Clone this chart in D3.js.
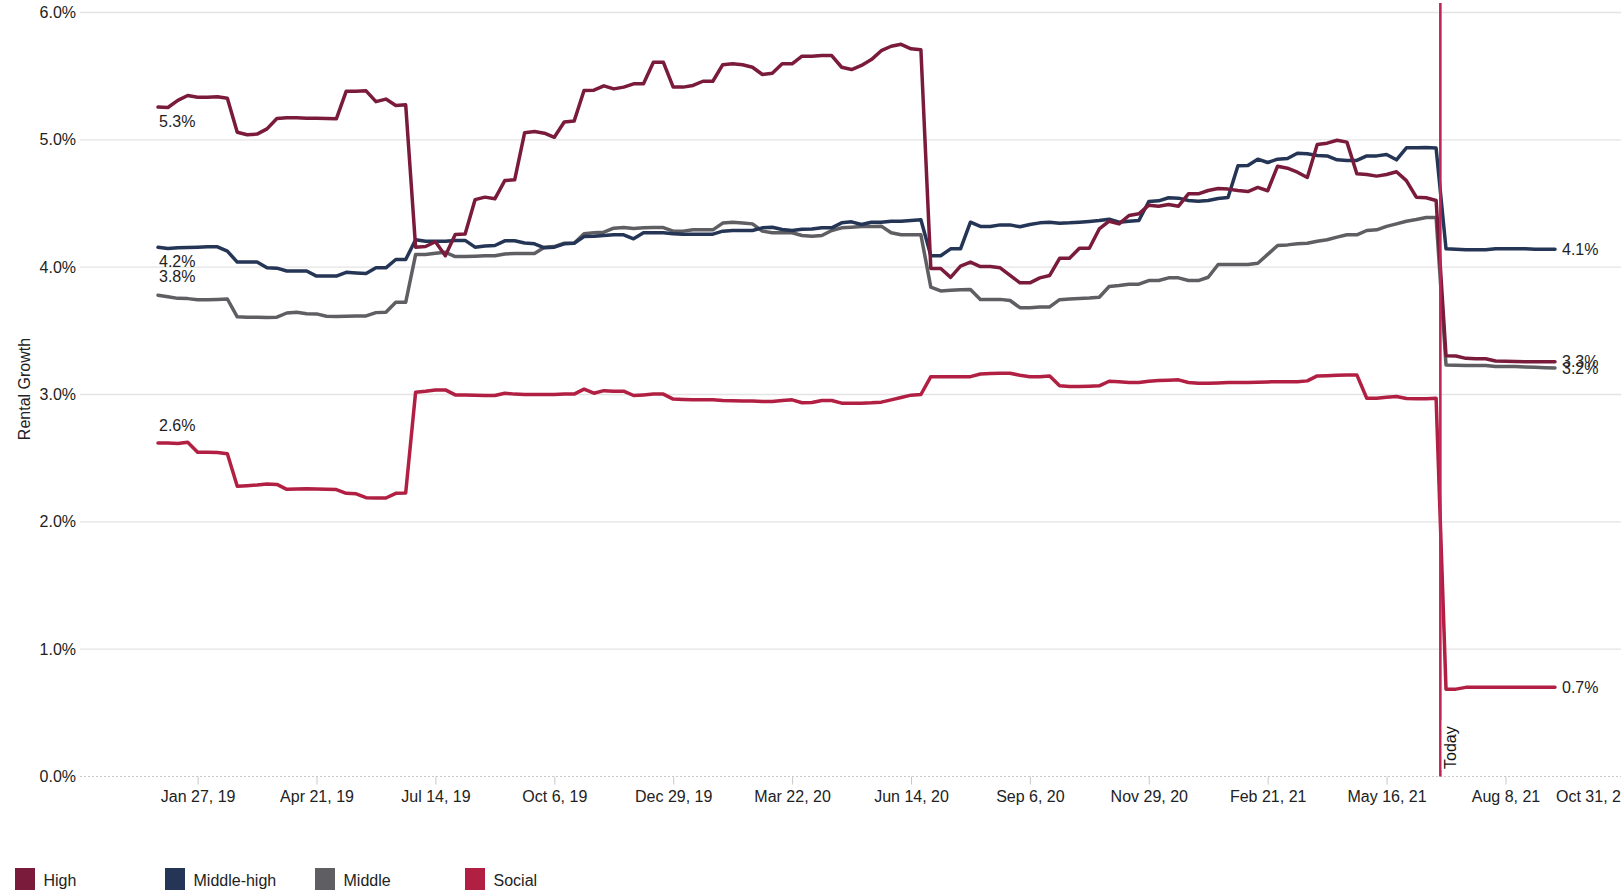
<!DOCTYPE html>
<html>
<head>
<meta charset="utf-8">
<script src="https://cdn.jsdelivr.net/npm/d3@7"></script>
<style>
  html, body { margin: 0; padding: 0; background: #fff; overflow: hidden; }
  svg { display: block; font-family: "Liberation Sans", Arial, Helvetica, sans-serif; }
</style>
</head>
<body>
<svg id="chart" width="1621" height="890"></svg>
<script>
// Weekly rental growth (%) by segment, first week starting 2018-12-30.
// Points after "today" are the forecast.
const firstWeek = "2018-12-30";
const todayDate = "2021-06-23";

const seriesNames = ["High", "Middle-high", "Middle", "Social"];

const high = [
  5.257, 5.254, 5.31, 5.348, 5.335, 5.335, 5.338, 5.327, 5.06, 5.04,
  5.045, 5.086, 5.168, 5.173, 5.173, 5.17, 5.17, 5.168, 5.165, 5.382,
  5.382, 5.385, 5.30, 5.32, 5.27, 5.275, 4.157, 4.162, 4.20, 4.09,
  4.257, 4.26, 4.53, 4.55, 4.537, 4.68, 4.686, 5.055, 5.065, 5.052,
  5.02, 5.14, 5.147, 5.387, 5.39, 5.424, 5.40, 5.414, 5.44, 5.44,
  5.61, 5.61, 5.414, 5.414, 5.427, 5.46, 5.46, 5.59, 5.597, 5.59,
  5.57, 5.513, 5.523, 5.597, 5.597, 5.657, 5.657, 5.662, 5.662, 5.57,
  5.552, 5.584, 5.63, 5.70, 5.735, 5.75, 5.715, 5.707, 3.99, 3.99,
  3.92, 4.008, 4.04, 4.005, 4.005, 3.995, 3.935, 3.877, 3.877, 3.916,
  3.935, 4.07, 4.07, 4.149, 4.149, 4.30, 4.361, 4.34, 4.406, 4.419,
  4.487, 4.479, 4.492, 4.479, 4.576, 4.576, 4.602, 4.618, 4.613, 4.602,
  4.594, 4.626, 4.60, 4.793, 4.777, 4.746, 4.704, 4.963, 4.974, 4.997,
  4.982, 4.733, 4.728, 4.715, 4.728, 4.749, 4.68, 4.55, 4.545, 4.524,
  3.305, 3.302, 3.284, 3.281, 3.281, 3.263, 3.262, 3.26, 3.258, 3.258, 3.258, 3.258
];

const middleHigh = [
  4.156, 4.147, 4.152, 4.155, 4.157, 4.16, 4.16, 4.126, 4.04, 4.04,
  4.04, 3.995, 3.992, 3.97, 3.97, 3.97, 3.93, 3.93, 3.93, 3.96,
  3.955, 3.95, 3.995, 3.995, 4.06, 4.06, 4.215, 4.204, 4.204, 4.204,
  4.21, 4.21, 4.157, 4.167, 4.17, 4.207, 4.207, 4.19, 4.183, 4.152,
  4.157, 4.183, 4.188, 4.24, 4.243, 4.249, 4.254, 4.254, 4.223, 4.27,
  4.27, 4.27, 4.262, 4.259, 4.259, 4.259, 4.259, 4.283, 4.288, 4.288,
  4.288, 4.309, 4.314, 4.296, 4.288, 4.298, 4.30, 4.309, 4.309, 4.348,
  4.356, 4.335, 4.353, 4.353, 4.361, 4.361, 4.366, 4.372, 4.09, 4.09,
  4.144, 4.144, 4.353, 4.32, 4.32, 4.332, 4.332, 4.317, 4.335, 4.348,
  4.353, 4.345, 4.348, 4.353, 4.359, 4.366, 4.377, 4.353, 4.361, 4.366,
  4.516, 4.521, 4.545, 4.542, 4.524, 4.518, 4.524, 4.539, 4.547, 4.796,
  4.798, 4.848, 4.822, 4.848, 4.853, 4.895, 4.89, 4.877, 4.874, 4.843,
  4.838, 4.838, 4.874, 4.874, 4.885, 4.843, 4.937, 4.937, 4.94, 4.935,
  4.144, 4.141, 4.136, 4.136, 4.136, 4.144, 4.144, 4.144, 4.144, 4.141, 4.141, 4.141
];

const middle = [
  3.78, 3.768, 3.755, 3.753, 3.745, 3.745, 3.747, 3.75, 3.61, 3.607,
  3.607, 3.604, 3.607, 3.64, 3.646, 3.635, 3.633, 3.615, 3.612, 3.615,
  3.617, 3.617, 3.643, 3.646, 3.724, 3.724, 4.099, 4.10, 4.11, 4.117,
  4.083, 4.083, 4.086, 4.09, 4.09, 4.104, 4.107, 4.108, 4.108, 4.157,
  4.162, 4.188, 4.188, 4.262, 4.27, 4.275, 4.306, 4.311, 4.304, 4.309,
  4.311, 4.311, 4.283, 4.283, 4.293, 4.293, 4.293, 4.346, 4.353, 4.346,
  4.34, 4.283, 4.27, 4.27, 4.27, 4.249, 4.243, 4.249, 4.288, 4.309,
  4.314, 4.32, 4.32, 4.322, 4.27, 4.254, 4.254, 4.254, 3.843, 3.813,
  3.818, 3.823, 3.824, 3.746, 3.747, 3.747, 3.738, 3.682, 3.682, 3.688,
  3.688, 3.745, 3.75, 3.753, 3.757, 3.764, 3.848, 3.856, 3.866, 3.866,
  3.895, 3.895, 3.916, 3.916, 3.895, 3.895, 3.921, 4.021, 4.021, 4.021,
  4.021, 4.031, 4.10, 4.17, 4.175, 4.183, 4.188, 4.204, 4.215, 4.236,
  4.254, 4.254, 4.288, 4.293, 4.32, 4.34, 4.361, 4.374, 4.39, 4.39,
  3.232, 3.229, 3.227, 3.227, 3.227, 3.219, 3.219, 3.219, 3.216, 3.214, 3.211, 3.208
];

const social = [
  2.62, 2.62, 2.615, 2.625, 2.547, 2.547, 2.544, 2.534, 2.28, 2.284,
  2.289, 2.297, 2.294, 2.255, 2.258, 2.26, 2.258, 2.255, 2.253, 2.224,
  2.22, 2.19, 2.187, 2.187, 2.224, 2.227, 3.018, 3.026, 3.036, 3.036,
  2.997, 2.997, 2.995, 2.992, 2.992, 3.01, 3.003, 3.0, 3.0, 3.0,
  3.0, 3.003, 3.003, 3.042, 3.01, 3.03, 3.026, 3.026, 2.992, 2.997,
  3.003, 3.003, 2.964, 2.961, 2.958, 2.958, 2.958, 2.953, 2.95, 2.948,
  2.948, 2.945, 2.945, 2.953, 2.958, 2.935, 2.937, 2.953, 2.953, 2.932,
  2.932, 2.932, 2.935, 2.94, 2.958, 2.977, 2.995, 3.0, 3.14, 3.14,
  3.14, 3.14, 3.14, 3.161, 3.164, 3.167, 3.167, 3.151, 3.14, 3.14,
  3.146, 3.068, 3.062, 3.062, 3.065, 3.068, 3.104, 3.10, 3.094, 3.094,
  3.104, 3.109, 3.112, 3.115, 3.094, 3.089, 3.089, 3.091, 3.094, 3.094,
  3.094, 3.096, 3.099, 3.10, 3.10, 3.10, 3.107, 3.146, 3.148, 3.151,
  3.154, 3.154, 2.971, 2.971, 2.979, 2.984, 2.969, 2.966, 2.966, 2.971,
  0.686, 0.686, 0.70, 0.70, 0.70, 0.70, 0.70, 0.70, 0.70, 0.70, 0.70, 0.70
];

const yTicks = [0, 1, 2, 3, 4, 5, 6];
const xTickDates = [
  "2019-01-27", "2019-04-21", "2019-07-14", "2019-10-06", "2019-12-29",
  "2020-03-22", "2020-06-14", "2020-09-06", "2020-11-29", "2021-02-21",
  "2021-05-16", "2021-08-08", "2021-10-31"
];

// ---- styling ----
const colors = {
  "High": "#7b1b3c",
  "Middle-high": "#243556",
  "Middle": "#5f5f63",
  "Social": "#b11f42"
};
const todayColor = "#bd2657";
const textColor = "#222";

const W = 1621, H = 890;
const plotLeft = 80, plotRight = W;

const parse = d3.utcParse("%Y-%m-%d");
const start = parse(firstWeek);
const dates = high.map((_, i) => d3.utcWeek.offset(start, i));

const x = d3.scaleUtc()
  .domain([dates[0], dates[dates.length - 1]])
  .range([158, 1555]);
const y = d3.scaleLinear().domain([0, 6]).range([776.5, 12.5]);

const svg = d3.select("#chart");

// horizontal gridlines (0% is drawn dashed)
const grid = svg.append("g");
grid.selectAll("line")
  .data(yTicks.filter(d => d !== 0))
  .join("line")
  .attr("x1", plotLeft).attr("x2", plotRight)
  .attr("y1", d => y(d)).attr("y2", d => y(d))
  .attr("stroke", "#e4e4e4").attr("stroke-width", 1.3);
grid.append("line")
  .attr("x1", plotLeft).attr("x2", plotRight)
  .attr("y1", y(0)).attr("y2", y(0))
  .attr("stroke", "#c8c8c8").attr("stroke-width", 1)
  .attr("stroke-dasharray", "2,2");

// y axis labels
const yAxis = svg.append("g")
  .attr("transform", `translate(${plotLeft - 4},0)`)
  .call(d3.axisLeft(y).tickValues(yTicks).tickSize(0).tickPadding(0)
    .tickFormat(d => d.toFixed(1) + "%"));
yAxis.select(".domain").remove();
yAxis.selectAll("text")
  .attr("font-size", 16).attr("fill", textColor)
  .attr("font-family", "Liberation Sans, Arial, sans-serif");

// y axis title
svg.append("text")
  .attr("transform", `translate(30,389) rotate(-90)`)
  .attr("text-anchor", "middle")
  .attr("font-size", 16).attr("fill", textColor)
  .text("Rental Growth");

// x axis
const xAxis = svg.append("g")
  .attr("transform", `translate(0,${y(0)})`)
  .call(d3.axisBottom(x)
    .tickValues(xTickDates.map(parse))
    .tickSizeInner(8).tickSizeOuter(0).tickPadding(6)
    .tickFormat(d3.utcFormat("%b %-d, %y")));
xAxis.select(".domain").remove();
xAxis.selectAll(".tick line").attr("stroke", "#c8c8c8");
xAxis.selectAll("text")
  .attr("font-size", 16).attr("fill", textColor)
  .attr("font-family", "Liberation Sans, Arial, sans-serif");
// the last label runs past the right edge; pull it back toward its neighbour
xAxis.selectAll(".tick").filter((d, i, n) => i === n.length - 1)
  .select("text").attr("text-anchor", "end").attr("x", 5);

// series lines
const series = [
  { name: "Middle", values: middle },
  { name: "Middle-high", values: middleHigh },
  { name: "High", values: high },
  { name: "Social", values: social }
];
const line = d3.line()
  .x((d, i) => x(dates[i]))
  .y(d => y(d));

svg.append("g").selectAll("path")
  .data(series)
  .join("path")
  .attr("d", d => line(d.values))
  .attr("fill", "none")
  .attr("stroke", d => colors[d.name])
  .attr("stroke-width", 3.5)
  .attr("stroke-linejoin", "round")
  .attr("stroke-linecap", "round");

// start / end value labels
const fmt = v => v.toFixed(1) + "%";
const startOffset = { "High": 19.5, "Middle-high": 19.5, "Middle": -13, "Social": -12 };
const labels = svg.append("g")
  .attr("font-size", 16).attr("fill", textColor);
series.forEach(s => {
  const v0 = s.values[0];
  labels.append("text")
    .attr("x", x(dates[0]) + 1)
    .attr("y", y(v0) + startOffset[s.name])
    .text(fmt(v0));
  const n = s.values.length - 1;
  const v1 = s.values[n];
  labels.append("text")
    .attr("x", x(dates[n]) + 7)
    .attr("y", y(v1))
    .attr("dy", "0.35em")
    .text(fmt(v1));
});

// today marker
const tx = x(parse(todayDate));
svg.append("line")
  .attr("x1", tx).attr("x2", tx)
  .attr("y1", 3).attr("y2", y(0))
  .attr("stroke", todayColor).attr("stroke-width", 2.6);
svg.append("rect")
  .attr("x", tx + 1.4).attr("y", 720).attr("width", 19).attr("height", 50)
  .attr("fill", "#fff");
svg.append("text")
  .attr("transform", `translate(${tx + 16},769) rotate(-90)`)
  .attr("font-size", 16).attr("fill", "#111")
  .text("Today");

// legend
const legend = svg.append("g").selectAll("g")
  .data(seriesNames)
  .join("g")
  .attr("transform", (d, i) => `translate(${15 + i * 150},868)`);
legend.append("rect")
  .attr("width", 20).attr("height", 22)
  .attr("fill", d => colors[d]);
legend.append("text")
  .attr("x", 28.5).attr("y", 18)
  .attr("font-size", 16).attr("fill", textColor)
  .text(d => d);
</script>
</body>
</html>
